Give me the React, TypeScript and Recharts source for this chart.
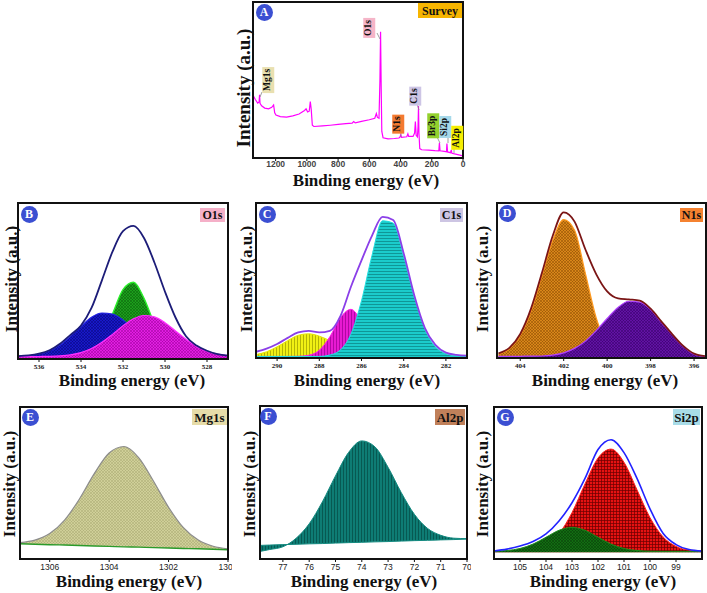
import React from 'react';
import { ComposedChart, Area, Line, XAxis, YAxis } from 'recharts';

// A - survey spectrum (eV, a.u. scaled 0-100 of panel height)
const surveyEnergy = [1343, 1330, 1315, 1306, 1303, 1300, 1290, 1270, 1245, 1225, 1213, 1206, 1198, 1170, 1130, 1090, 1050, 1015, 1005, 995, 985, 978, 972, 965, 955, 900, 850, 800, 750, 710, 700, 690, 650, 600, 565, 555, 548, 538, 532, 528, 524, 520, 512, 480, 440, 410, 403, 399, 394, 360, 353, 348, 320, 310, 305, 300, 292, 288, 285, 282, 277, 265, 220, 180, 155, 151, 147, 120, 106, 103, 99, 80, 75, 71, 40, 0];
const surveyCounts = [39.8, 37.5, 35.2, 36, 40.5, 35, 33.5, 32, 31.5, 32.5, 34, 29, 27.5, 26.5, 26.2, 27, 28.2, 30.5, 31.5, 29.5, 30, 36.2, 31, 21, 20.2, 20.6, 21, 21.5, 22, 22.3, 23.4, 22.5, 23.5, 24.5, 25.5, 28.5, 26, 25.5, 50, 80.9, 45, 17, 13, 12.3, 12.5, 12.8, 13.5, 14.8, 13.2, 13.6, 15.5, 13.8, 13.8, 16, 23.4, 14.5, 13.5, 20, 33.4, 16, 6, 5.3, 5, 4.7, 4.6, 9.8, 4.6, 4.2, 4, 9.2, 3.9, 3.4, 5.2, 3, 2.3, 1.4];
const surveyTicks = [0, 200, 400, 600, 800, 1000, 1200];

// B - O1s
const bEnergy = [537, 536.5, 536, 535.5, 535, 534.5, 534, 533.5, 533, 532.5, 532, 531.5, 531, 530.5, 530, 529.5, 529, 528.5, 528, 527.5, 527];
const bBlue = [1.7, 2.1, 3.2, 5.3, 9.0, 14.5, 20.9, 26.8, 29.5, 28.8, 25.0, 19.2, 13.0, 8.1, 4.7, 2.9, 2.0, 1.7, 1.5, 1.5, 1.5];
const bGreen = [1.5, 1.5, 1.5, 1.5, 1.5, 1.6, 2.4, 5.4, 13.9, 28.9, 44.5, 49.2, 38.9, 22.3, 9.7, 3.8, 1.9, 1.5, 1.5, 1.5, 1.5];
const bMagenta = [1.5, 1.5, 1.6, 1.7, 2.0, 2.7, 4.1, 6.7, 10.7, 15.8, 21.3, 25.8, 27.9, 27.0, 23.3, 18.0, 12.6, 8.1, 5.0, 3.1, 2.2];
const bEnvelope = [1.9, 2.3, 3.4, 5.6, 9.8, 15.5, 21.5, 32.7, 50.6, 68.8, 81.9, 85.3, 77.6, 61.7, 43.1, 26.6, 14.6, 8.6, 5.3, 3.1, 2.2];
const bTicks = [528, 530, 532, 534, 536];

// C - C1s
const cEnergy = [291, 290.5, 290, 289.5, 289, 288.5, 288, 287.5, 287, 286.5, 286, 285.5, 285, 284.5, 284, 283.5, 283, 282.5, 282, 281.5, 281];
const cYellow = [2.2, 4.0, 7.2, 11.2, 14.6, 15.6, 14.1, 11.2, 7.8, 5.0, 3.0, 2.5, 2.2, 2.0, 1.8, 1.6, 1.5, 1.3, 1.2, 1.1, 1.0];
const cMagenta = [1, 1, 1, 1, 1.1, 1.8, 5.0, 13.7, 26.0, 31.4, 23.7, 11.5, 4.0, 1.5, 1, 1, 1, 1, 1, 1, 1];
const cCyan = [1, 1, 1, 1, 1, 1, 1, 1.9, 5.2, 15.4, 36.9, 66.3, 88.5, 87.0, 65.6, 39.2, 18.6, 7.3, 2.8, 1.4, 1];
const cEnvelope = [4, 6, 9, 13, 16.5, 17.5, 16.5, 17.5, 27, 46, 63, 79, 91, 89, 67.5, 40.5, 19.5, 8.5, 3.5, 2, 1.5];
const cTicks = [282, 284, 286, 288, 290];

// D - N1s
const dEnergy = [405, 404.5, 404, 403.5, 403, 402.5, 402, 401.5, 401, 400.5, 400, 399.5, 399, 398.5, 398, 397.5, 397, 396.5, 396, 395.5];
const dOrange = [2.5, 6.0, 14.4, 30.3, 53.0, 76.1, 89.3, 82.4, 54.4, 25.7, 9.1, 2.9, 1.2, 1, 1, 1, 1, 1, 1, 1];
const dPurple = [1, 1, 1.1, 1.2, 1.3, 1.9, 3.3, 6.2, 10.9, 17.7, 25.5, 32.6, 36.6, 36.1, 31.3, 23, 15, 7.5, 2.5, 1];
const dEnvelope = [3, 6.5, 15.5, 32, 55, 79, 94, 88, 70, 54, 43, 38.5, 37.8, 37, 31.8, 23.5, 15.3, 7.8, 2.8, 1.2];
const dTicks = [396, 398, 400, 402, 404];

// E - Mg1s
const eEnergy = [1307, 1306.5, 1306, 1305.5, 1305, 1304.5, 1304, 1303.5, 1303, 1302.5, 1302, 1301.5, 1301, 1300.5, 1300];
const eBaseline = [10.0, 9.7, 9.4, 9.2, 8.9, 8.6, 8.3, 8.0, 7.8, 7.5, 7.2, 6.9, 6.7, 6.4, 6.1];
const eSignal = [10.8, 12.4, 16.7, 25.6, 39.5, 56.2, 69.7, 74.0, 66.6, 51.0, 34.0, 20.6, 12.5, 8.4, 6.7];
const eTicks = [1300, 1302, 1304, 1306];

// F - Al2p
const fEnergy = [77.85, 77.5, 77, 76.5, 76, 75.5, 75, 74.5, 74, 73.5, 73, 72.5, 72, 71.5, 71, 70.5, 70];
const fBaseline = [8.9, 9.1, 9.4, 9.6, 9.9, 10.1, 10.4, 10.7, 10.9, 11.2, 11.4, 11.7, 12.0, 12.2, 12.5, 12.7, 13.0];
const fSignal = [5.0, 6.2, 8.0, 13.5, 23.0, 37.3, 54.3, 69.7, 77.2, 73.3, 59.9, 43.4, 29.2, 20.0, 15.5, 13.6, 13.3];
const fTicks = [70, 71, 72, 73, 74, 75, 76, 77];

// G - Si2p
const gEnergy = [106, 105.5, 105, 104.5, 104, 103.5, 103, 102.5, 102, 101.5, 101, 100.5, 100, 99.5, 99, 98.5, 98];
const gRed = [5, 5.1, 5.3, 6.2, 9.2, 16.6, 30.5, 49.4, 66.4, 72.3, 63.6, 45.5, 27.2, 14.6, 8.3, 5.9, 5.2];
const gGreen = [5.1, 5.6, 6.9, 9.8, 14.3, 18.9, 20.8, 18.9, 14.3, 9.8, 6.9, 5.6, 5.1, 5, 5, 5, 5];
const gEnvelope = [5.3, 6.5, 8.5, 11.5, 16.5, 25, 37, 53, 72, 78.5, 70, 53, 33, 17, 9.5, 6.2, 5.2];
const gTicks = [99, 100, 101, 102, 103, 104, 105];

const SERIF = '"Liberation Serif", "Times New Roman", serif';
const SANS = '"Liberation Sans", Arial, sans-serif';
const PAD = 4;
const AXIS_H = 18;

type Frame = { x: number; y: number; w: number; h: number };

const smallTick = { fontSize: 7, fontFamily: SERIF, fontWeight: 700, fill: '#222' };
const midTick = { fontSize: 8.5, fontFamily: SANS, fill: '#222' };
const surveyTick = { fontSize: 8.5, fontFamily: SANS, fontWeight: 700, fill: '#444' };

function Hatch({ id, bg, fg, kind, size = 3 }: { id: string; bg: string; fg: string; kind: string; size?: number }) {
  return (
    <pattern id={id} patternUnits="userSpaceOnUse" width={size} height={size}>
      <rect width={size} height={size} fill={bg} />
      {(kind === 'h' || kind === 'grid') && <line x1={0} y1={0.5} x2={size} y2={0.5} stroke={fg} strokeWidth={0.7} />}
      {(kind === 'v' || kind === 'grid') && <line x1={0.5} y1={0} x2={0.5} y2={size} stroke={fg} strokeWidth={0.7} />}
      {kind === 'cross' && <path d={`M0,0L${size},${size}M${size},0L0,${size}`} stroke={fg} strokeWidth={0.5} />}
    </pattern>
  );
}

function Panel({ frame, domain, ticks, tick, data, children, tickMargin = 2 }: any) {
  return (
    <>
      <div style={{ position: 'absolute', left: frame.x - PAD, top: frame.y - PAD }}>
        <ComposedChart
          width={frame.w + PAD * 2}
          height={frame.h + PAD + AXIS_H}
          data={data}
          margin={{ top: PAD, right: PAD, left: PAD, bottom: 0 }}
        >
          {children}
          <XAxis
            dataKey="x"
            type="number"
            domain={domain}
            reversed
            ticks={ticks}
            interval={0}
            allowDataOverflow
            axisLine={false}
            tickLine={{ stroke: '#111' }}
            tickSize={3}
            tickMargin={tickMargin}
            tick={tick}
            height={AXIS_H}
          />
          <YAxis hide domain={[0, 100]} allowDataOverflow />
        </ComposedChart>
      </div>
      <div
        style={{
          position: 'absolute',
          left: frame.x - 1,
          top: frame.y - 1,
          width: frame.w + 2,
          height: frame.h + 2,
          border: '2px solid #111',
          boxSizing: 'border-box',
          pointerEvents: 'none',
        }}
      />
    </>
  );
}

function Tag({ x, y, w, h, bg, text, size = 12 }: any) {
  return (
    <div
      style={{
        position: 'absolute', left: x, top: y, width: w, height: h, background: bg,
        fontFamily: SERIF, fontWeight: 700, fontSize: size, color: '#111',
        display: 'flex', alignItems: 'center', justifyContent: 'center', lineHeight: 1,
      }}
    >
      {text}
    </div>
  );
}

function Badge({ cx, cy, letter }: any) {
  return (
    <div
      style={{
        position: 'absolute', left: cx - 8.5, top: cy - 8.5, width: 17, height: 17, borderRadius: '50%',
        background: '#3b4fd2', color: '#fff', fontFamily: SERIF, fontWeight: 700, fontSize: 12,
        display: 'flex', alignItems: 'center', justifyContent: 'center', lineHeight: 1,
      }}
    >
      {letter}
    </div>
  );
}

function VLabel({ cx, cy, text, size = 17 }: any) {
  return (
    <div
      style={{
        position: 'absolute', left: cx, top: cy, transform: 'translate(-50%, -50%) rotate(-90deg)',
        fontFamily: SERIF, fontWeight: 700, fontSize: size, whiteSpace: 'nowrap', color: '#111', lineHeight: 1,
      }}
    >
      {text}
    </div>
  );
}

function HLabel({ cx, top, text, size = 17 }: any) {
  return (
    <div
      style={{
        position: 'absolute', left: cx, top, transform: 'translateX(-50%)',
        fontFamily: SERIF, fontWeight: 700, fontSize: size, whiteSpace: 'nowrap', color: '#111', lineHeight: 1,
      }}
    >
      {text}
    </div>
  );
}

function PeakTag({ cx, cy, text, bg }: any) {
  return (
    <div
      style={{
        position: 'absolute', left: cx, top: cy, transform: 'translate(-50%, -50%) rotate(-90deg)',
        background: bg, fontFamily: SERIF, fontWeight: 700, fontSize: 9.5, padding: '1px 2px',
        whiteSpace: 'nowrap', color: '#111', lineHeight: 1,
      }}
    >
      {text}
    </div>
  );
}

const frameA: Frame = { x: 253, y: 2, w: 210, h: 156 };
const frameB: Frame = { x: 18, y: 203, w: 210, h: 156 };
const frameC: Frame = { x: 256, y: 203, w: 211, h: 155 };
const frameD: Frame = { x: 497, y: 203, w: 209, h: 155 };
const frameE: Frame = { x: 20, y: 407, w: 208, h: 152 };
const frameF: Frame = { x: 260, y: 406, w: 207, h: 153 };
const frameG: Frame = { x: 494, y: 407, w: 208, h: 152 };

export default function App() {
  const surveyRows = surveyEnergy.map((x, i) => ({ x, counts: surveyCounts[i] }));
  const bRows = bEnergy.map((x, i) => ({ x, blue: bBlue[i], green: bGreen[i], magenta: bMagenta[i], env: bEnvelope[i] }));
  const cRows = cEnergy.map((x, i) => ({ x, yellow: cYellow[i], magenta: cMagenta[i], cyan: cCyan[i], env: cEnvelope[i] }));
  const dRows = dEnergy.map((x, i) => ({ x, orange: dOrange[i], purple: dPurple[i], env: dEnvelope[i] }));
  const eRows = eEnergy.map((x, i) => ({ x, base: eBaseline[i], signal: eSignal[i], band: [eBaseline[i], eSignal[i]] }));
  const fRows = fEnergy.map((x, i) => ({ x, base: fBaseline[i], signal: fSignal[i], band: [fBaseline[i], fSignal[i]] }));
  const gRows = gEnergy.map((x, i) => ({ x, red: gRed[i], green: gGreen[i], env: gEnvelope[i] }));

  return (
    <div style={{ position: 'absolute', left: 0, top: 0, width: 707, height: 593, background: '#fff', overflow: 'hidden' }}>
      {/* A survey */}
      <Panel frame={frameA} domain={[0, 1345]} ticks={surveyTicks} tick={surveyTick} data={surveyRows} tickMargin={0}>
        <Line type="linear" dataKey="counts" stroke="#ff00ff" strokeWidth={1.2} dot={false} isAnimationActive={false} />
      </Panel>
      <svg style={{ position: 'absolute', left: 0, top: 0 }} width={707} height={200}>
        <g stroke="#888" strokeWidth={0.8}>
          <line x1={262} y1={92} x2={260} y2={97} />
          <line x1={377} y1={33} x2={380} y2={39} />
          <line x1={401} y1={132} x2={401} y2={137} />
          <line x1={417} y1={104} x2={419} y2={110} />
          <line x1={437} y1={137} x2={440} y2={143} />
          <line x1={448} y1={136} x2={448} y2={143} />
          <line x1={454} y1={148} x2={454} y2={153} />
        </g>
      </svg>
      <PeakTag cx={267.5} cy={80} text="Mg1s" bg="#e9e0b0" />
      <PeakTag cx={369} cy={28} text="O1s" bg="#f5b5c8" />
      <PeakTag cx={397.5} cy={123.5} text="N1s" bg="#f47a30" />
      <PeakTag cx={415} cy={95.5} text="C1s" bg="#cdc5e5" />
      <PeakTag cx={433} cy={126} text="Br3p" bg="#94d12e" />
      <PeakTag cx={444.5} cy={126.5} text="Si2p" bg="#a6d9ea" />
      <PeakTag cx={457} cy={138} text="Al2p" bg="#f5ee00" />
      <Tag x={418} y={3} w={44} h={15} bg="#f7b500" text="Survey" size={12} />
      <Badge cx={264} cy={12} letter="A" />
      <VLabel cx={243} cy={88} text="Intensity (a.u.)" size={19} />
      <HLabel cx={366} top={172} text="Binding energy (eV)" />

      {/* B O1s */}
      <Panel frame={frameB} domain={[527, 537]} ticks={bTicks} tick={smallTick} data={bRows}>
        <defs>
          <Hatch id="bGreenP" bg="#1c9e1c" fg="#0a5e0a" kind="cross" />
          <Hatch id="bBlueP" bg="#1818c8" fg="#06067a" kind="cross" />
          <Hatch id="bMagP" bg="#e21ee2" fg="#9a009a" kind="cross" />
        </defs>
        <Area type="monotone" dataKey="green" fill="url(#bGreenP)" fillOpacity={1} stroke="#2cf02c" strokeWidth={1.4} isAnimationActive={false} />
        <Area type="monotone" dataKey="blue" fill="url(#bBlueP)" fillOpacity={1} stroke="#2222e6" strokeWidth={1.2} isAnimationActive={false} />
        <Area type="monotone" dataKey="magenta" fill="url(#bMagP)" fillOpacity={1} stroke="#ff30ff" strokeWidth={1.2} isAnimationActive={false} />
        <Line type="monotone" dataKey="env" stroke="#1c1c78" strokeWidth={1.8} dot={false} isAnimationActive={false} />
      </Panel>
      <Badge cx={29} cy={214} letter="B" />
      <Tag x={200} y={208} w={25} h={14} bg="#f5b0c8" text="O1s" />
      <VLabel cx={11} cy={279} text="Intensity (a.u.)" />
      <HLabel cx={132} top={372} text="Binding energy (eV)" />

      {/* C C1s */}
      <Panel frame={frameC} domain={[281, 291]} ticks={cTicks} tick={smallTick} data={cRows}>
        <defs>
          <Hatch id="cYelP" bg="#f0f014" fg="#9a9a00" kind="v" />
          <Hatch id="cMagP" bg="#e81ad2" fg="#980090" kind="v" />
          <Hatch id="cCyanP" bg="#1bcccc" fg="#0a7f7f" kind="h" />
        </defs>
        <Area type="monotone" dataKey="yellow" fill="url(#cYelP)" fillOpacity={1} stroke="#e6e600" strokeWidth={1} isAnimationActive={false} />
        <Area type="monotone" dataKey="magenta" fill="url(#cMagP)" fillOpacity={1} stroke="#ff20e8" strokeWidth={1} isAnimationActive={false} />
        <Area type="monotone" dataKey="cyan" fill="url(#cCyanP)" fillOpacity={1} stroke="#20e0e0" strokeWidth={1} isAnimationActive={false} />
        <Line type="monotone" dataKey="env" stroke="#8b3fe8" strokeWidth={1.8} dot={false} isAnimationActive={false} />
      </Panel>
      <Badge cx={267} cy={214} letter="C" />
      <Tag x={440} y={208} w={23} h={14} bg="#cdc5e3" text="C1s" />
      <VLabel cx={246} cy={279} text="Intensity (a.u.)" />
      <HLabel cx={367} top={372} text="Binding energy (eV)" />

      {/* D N1s */}
      <Panel frame={frameD} domain={[395.45, 405.07]} ticks={dTicks} tick={smallTick} data={dRows}>
        <defs>
          <Hatch id="dOrP" bg="#d8861a" fg="#8a4a00" kind="cross" />
          <Hatch id="dPuP" bg="#6212a4" fg="#340066" kind="cross" />
        </defs>
        <Area type="monotone" dataKey="orange" fill="url(#dOrP)" fillOpacity={1} stroke="#ff9a20" strokeWidth={1.2} isAnimationActive={false} />
        <Area type="monotone" dataKey="purple" fill="url(#dPuP)" fillOpacity={1} stroke="#b040ff" strokeWidth={1.2} isAnimationActive={false} />
        <Line type="monotone" dataKey="env" stroke="#7b1515" strokeWidth={1.8} dot={false} isAnimationActive={false} />
      </Panel>
      <Badge cx={507} cy={213} letter="D" />
      <Tag x={680} y={208} w={23} h={14} bg="#f58230" text="N1s" />
      <VLabel cx={482} cy={279} text="Intensity (a.u.)" />
      <HLabel cx={605} top={372} text="Binding energy (eV)" />

      {/* E Mg1s */}
      <Panel frame={frameE} domain={[1300, 1307]} ticks={eTicks} tick={midTick} data={eRows}>
        <defs>
          <Hatch id="eKhP" bg="#cfcf98" fg="#a8a872" kind="cross" />
        </defs>
        <Area type="monotone" dataKey="band" fill="url(#eKhP)" fillOpacity={1} stroke="none" isAnimationActive={false} />
        <Line type="monotone" dataKey="signal" stroke="#8c8c8c" strokeWidth={1.2} dot={false} isAnimationActive={false} />
        <Line type="monotone" dataKey="base" stroke="#2a9a2a" strokeWidth={1.4} dot={false} isAnimationActive={false} />
      </Panel>
      <Badge cx={30} cy={417} letter="E" />
      <Tag x={192} y={409} w={35} h={16} bg="#e6dca8" text="Mg1s" size={13} />
      <VLabel cx={9} cy={484} text="Intensity (a.u.)" />
      <HLabel cx={129} top={573} text="Binding energy (eV)" />

      {/* F Al2p */}
      <Panel frame={frameF} domain={[70, 77.87]} ticks={fTicks} tick={midTick} data={fRows}>
        <defs>
          <Hatch id="fTeP" bg="#0e7c74" fg="#054a44" kind="v" />
        </defs>
        <Area type="monotone" dataKey="band" fill="url(#fTeP)" fillOpacity={1} stroke="none" isAnimationActive={false} />
        <Line type="monotone" dataKey="signal" stroke="#138a80" strokeWidth={1} dot={false} isAnimationActive={false} />
        <Line type="monotone" dataKey="base" stroke="#138a80" strokeWidth={1} dot={false} isAnimationActive={false} />
      </Panel>
      <Badge cx={268} cy={416} letter="F" />
      <Tag x={435} y={409} w={30} h={16} bg="#c0805a" text="Al2p" size={13} />
      <VLabel cx={249} cy={484} text="Intensity (a.u.)" />
      <HLabel cx={364} top={573} text="Binding energy (eV)" />

      {/* G Si2p */}
      <Panel frame={frameG} domain={[98, 106]} ticks={gTicks} tick={midTick} data={gRows}>
        <defs>
          <Hatch id="gRedP" bg="#e61212" fg="#6a0000" kind="grid" />
          <Hatch id="gGrP" bg="#126c12" fg="#083c08" kind="cross" />
        </defs>
        <Area type="monotone" dataKey="red" baseValue={4.5} fill="url(#gRedP)" fillOpacity={1} stroke="#ff2020" strokeWidth={1} isAnimationActive={false} />
        <Area type="monotone" dataKey="green" baseValue={4.5} fill="url(#gGrP)" fillOpacity={1} stroke="#1a8a1a" strokeWidth={1} isAnimationActive={false} />
        <Line type="monotone" dataKey="env" stroke="#2222ff" strokeWidth={1.6} dot={false} isAnimationActive={false} />
      </Panel>
      <Badge cx={505} cy={417} letter="G" />
      <Tag x={673} y={409} w={27} h={16} bg="#a8dce8" text="Si2p" size={13} />
      <VLabel cx={482} cy={484} text="Intensity (a.u.)" />
      <HLabel cx={603} top={573} text="Binding energy (eV)" />
    </div>
  );
}
